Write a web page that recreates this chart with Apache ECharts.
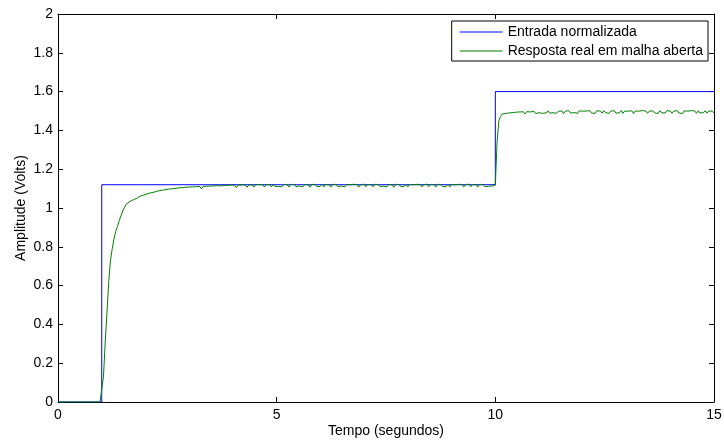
<!DOCTYPE html>
<html>
<head>
<meta charset="utf-8">
<title>Resposta em malha aberta</title>
<script src="https://cdn.jsdelivr.net/npm/echarts@6/dist/echarts.min.js"></script>
<style>
  html, body { margin: 0; padding: 0; background: #fff; }
  #chart { width: 724px; height: 441px; }
</style>
</head>
<body>
<div id="chart"></div>
<script>
// Normalised input: steps at t = 1 s and t = 10 s
const inputTimes = [0, 1, 1, 10, 10, 15];
const inputVolts = [0, 0, 1.12, 1.12, 1.6, 1.6];

// Measured open-loop response, sampled every 0.04 s from t = 0
const sampleStep = 0.04;
const responseVolts = [
  // 0.00 .. 1.00 s
  0, 0, 0, 0, 0, 0, 0, 0, 0, 0,
  0, 0, 0, 0, 0, 0, 0, 0, 0, 0,
  0, 0, 0, 0, 0, 0,
  // 1.04 .. 5.00 s
  0.13, 0.31, 0.46, 0.62, 0.73, 0.79, 0.84, 0.88, 0.905, 0.935,
  0.96, 0.985, 1.004, 1.019, 1.026, 1.033, 1.036, 1.042, 1.044, 1.050,
  1.051, 1.061, 1.055, 1.067, 1.061, 1.073, 1.066, 1.078, 1.070, 1.082,
  1.076, 1.087, 1.080, 1.091, 1.083, 1.094, 1.086, 1.097, 1.088, 1.099,
  1.091, 1.101, 1.093, 1.104, 1.095, 1.105, 1.096, 1.107, 1.098, 1.108,
  1.099, 1.109, 1.100, 1.110, 1.101, 1.111, 1.099, 1.112, 1.102, 1.112,
  1.104, 1.113, 1.103, 1.114, 1.105, 1.115, 1.106, 1.114, 1.104, 1.116,
  1.107, 1.117, 1.108, 1.118, 1.109, 1.117, 1.105, 1.119, 1.109, 1.119,
  1.110, 1.119, 1.107, 1.118, 1.111, 1.120, 1.108, 1.120, 1.110, 1.121,
  1.111, 1.120, 1.108, 1.121, 1.112, 1.120, 1.109, 1.122, 1.111, 1.120,
  // 5.04 .. 10.00 s
  1.112, 1.121, 1.109, 1.122, 1.113, 1.120, 1.108, 1.121, 1.112, 1.122,
  1.110, 1.120, 1.113, 1.123, 1.109, 1.121, 1.112, 1.120, 1.107, 1.121,
  1.113, 1.122, 1.110, 1.120, 1.112, 1.123, 1.109, 1.121, 1.113, 1.120,
  1.108, 1.121, 1.112, 1.122, 1.110, 1.120, 1.113, 1.123, 1.109, 1.121,
  1.112, 1.120, 1.110, 1.122, 1.113, 1.121, 1.108, 1.120, 1.112, 1.123,
  1.110, 1.121, 1.113, 1.120, 1.109, 1.122, 1.112, 1.121, 1.110, 1.120,
  1.113, 1.123, 1.109, 1.121, 1.112, 1.120, 1.107, 1.122, 1.113, 1.121,
  1.110, 1.120, 1.112, 1.123, 1.109, 1.121, 1.113, 1.120, 1.110, 1.122,
  1.112, 1.121, 1.109, 1.120, 1.113, 1.123, 1.110, 1.121, 1.112, 1.120,
  1.108, 1.122, 1.113, 1.121, 1.110, 1.120, 1.112, 1.123, 1.109, 1.121,
  1.113, 1.120, 1.110, 1.122, 1.112, 1.121, 1.109, 1.120, 1.113, 1.123,
  1.110, 1.121, 1.112, 1.120, 1.108, 1.122, 1.113, 1.121, 1.110, 1.120,
  1.112, 1.122, 1.113, 1.120, 1.118,
  // 10.04 .. 15.00 s
  1.34, 1.45, 1.472, 1.484, 1.480, 1.488, 1.482, 1.490, 1.484, 1.492,
  1.486, 1.494, 1.484, 1.495, 1.487, 1.496, 1.485, 1.497, 1.488, 1.495,
  1.490, 1.499, 1.487, 1.497, 1.491, 1.500, 1.488, 1.498, 1.490, 1.501,
  1.489, 1.498, 1.491, 1.501, 1.488, 1.499, 1.492, 1.500, 1.487, 1.499,
  1.491, 1.502, 1.489, 1.499, 1.492, 1.500, 1.488, 1.501, 1.491, 1.499,
  1.489, 1.500, 1.492, 1.502, 1.490, 1.499, 1.487, 1.501, 1.491, 1.500,
  1.489, 1.502, 1.491, 1.499, 1.488, 1.500, 1.492, 1.501, 1.489, 1.499,
  1.491, 1.502, 1.488, 1.500, 1.492, 1.499, 1.490, 1.501, 1.487, 1.500,
  1.491, 1.499, 1.489, 1.502, 1.492, 1.500, 1.488, 1.499, 1.491, 1.501,
  1.490, 1.500, 1.487, 1.502, 1.491, 1.499, 1.489, 1.501, 1.492, 1.500,
  1.488, 1.499, 1.491, 1.502, 1.490, 1.500, 1.487, 1.501, 1.491, 1.499,
  1.489, 1.502, 1.492, 1.500, 1.488, 1.501, 1.490, 1.499, 1.491, 1.502,
  1.489, 1.500, 1.491, 1.499, 1.490
];

const seriesNames = ['Entrada normalizada', 'Resposta real em malha aberta'];
const seriesColors = ['#0000ff', '#008000'];
const xTitle = 'Tempo (segundos)';
const yTitle = 'Amplitude (Volts)';

const inputData = inputTimes.map((t, i) => [t, inputVolts[i]]);
const responseData = responseVolts.map((v, i) => [+(i * sampleStep).toFixed(2), v]);

const fontFamily = '"Liberation Sans", Arial, Helvetica, sans-serif';
const textStyle = { fontFamily: fontFamily, fontSize: 14, color: '#000' };
const frameLine = { show: true, onZero: false, lineStyle: { color: '#000', width: 1 } };
const innerTicks = { show: true, inside: true, length: 5, lineStyle: { color: '#000', width: 1 } };

function xAxisDef(position, withLabels) {
  return {
    type: 'value', min: 0, max: 15, interval: 5, position: position,
    name: withLabels ? xTitle : '', nameLocation: 'middle', nameGap: 22,
    nameMoveOverlap: false,
    nameTextStyle: textStyle,
    axisLine: frameLine, axisTick: innerTicks,
    axisLabel: Object.assign({ show: withLabels, margin: 6 }, textStyle),
    splitLine: { show: false }
  };
}
function yAxisDef(position, withLabels) {
  return {
    type: 'value', min: 0, max: 2, interval: 0.2, position: position,
    name: withLabels ? yTitle : '', nameLocation: 'middle', nameGap: 30,
    nameMoveOverlap: false,
    nameTextStyle: textStyle,
    axisLine: frameLine, axisTick: innerTicks,
    axisLabel: Object.assign({ show: withLabels, margin: 5 }, textStyle),
    splitLine: { show: false }
  };
}

const chart = echarts.init(document.getElementById('chart'), null, { renderer: 'canvas' });
chart.setOption({
  animation: false,
  backgroundColor: '#fff',
  grid: { left: 58, right: 10, top: 14, bottom: 39, containLabel: false, outerBoundsMode: 'none' },
  legend: {
    orient: 'vertical', right: 16, top: 21,
    data: seriesNames.map((name, i) => ({ name: name, icon: 'rect', itemStyle: { color: seriesColors[i] } })),
    backgroundColor: '#fff', borderColor: '#000', borderWidth: 1, borderRadius: 0,
    padding: [4, 5, 3, 8],
    itemWidth: 43, itemHeight: 1, itemGap: 5,
    textStyle: Object.assign({ lineHeight: 14 }, textStyle),
    selectedMode: false
  },
  xAxis: [xAxisDef('bottom', true), xAxisDef('top', false)],
  yAxis: [yAxisDef('left', true), yAxisDef('right', false)],
  series: [
    {
      name: seriesNames[0], type: 'line', xAxisIndex: 0, yAxisIndex: 0,
      data: inputData, symbol: 'none',
      lineStyle: { color: seriesColors[0], width: 1 }, itemStyle: { color: seriesColors[0] }
    },
    {
      name: seriesNames[1], type: 'line', xAxisIndex: 0, yAxisIndex: 0,
      data: responseData, symbol: 'none',
      lineStyle: { color: seriesColors[1], width: 1 }, itemStyle: { color: seriesColors[1] }
    }
  ]
});
</script>
</body>
</html>
